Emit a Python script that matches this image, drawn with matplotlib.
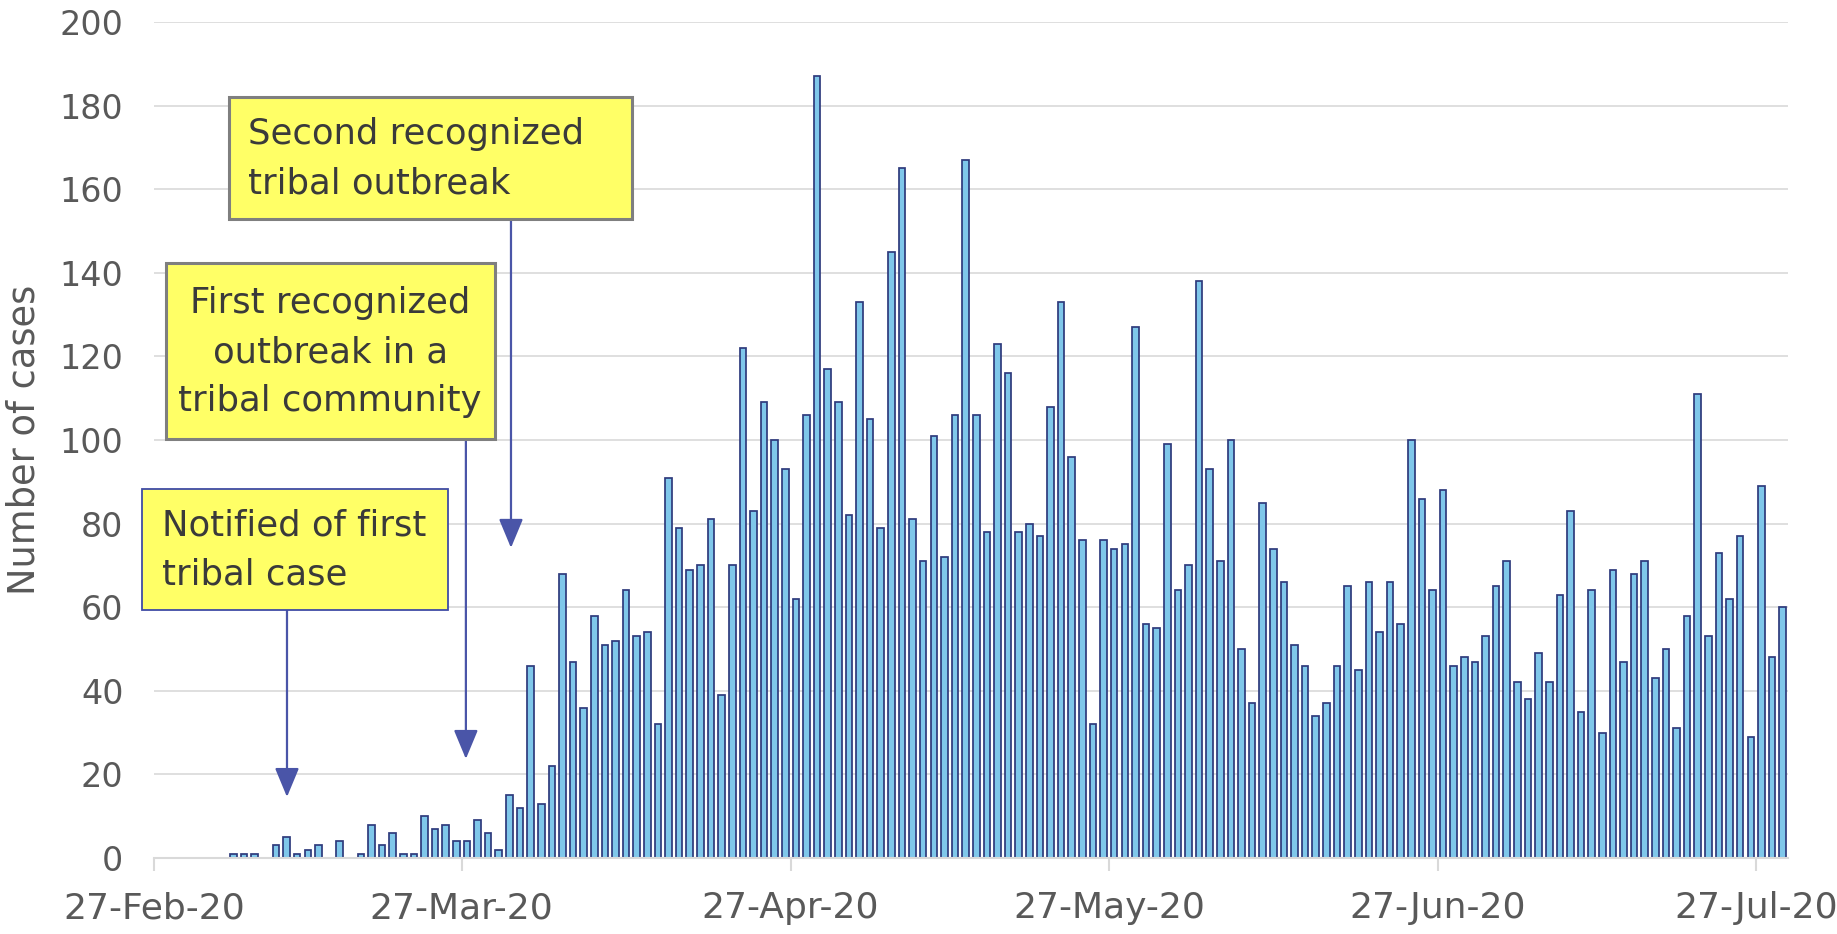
import matplotlib
matplotlib.use('Agg')
import matplotlib.pyplot as plt
import matplotlib.dates as mdates
from matplotlib.patches import Rectangle
import pandas as pd
import numpy as np

# daily tribal cases, first entry is 5-Mar-2020
first_day = '2020-03-05'
cases = [1, 1, 1, 0, 3, 5, 1, 2, 3, 0, 4, 0, 1, 8, 3, 6, 1, 1, 10, 7,
         8, 4, 4, 9, 6, 2, 15, 12, 46, 13, 22, 68, 47, 36, 58, 51, 52, 64, 53, 54,
         32, 91, 79, 69, 70, 81, 39, 70, 122, 83, 109, 100, 93, 62, 106, 187, 117, 109, 82, 133,
         105, 79, 145, 165, 81, 71, 101, 72, 106, 167, 106, 78, 123, 116, 78, 80, 77, 108, 133, 96,
         76, 32, 76, 74, 75, 127, 56, 55, 99, 64, 70, 138, 93, 71, 100, 50, 37, 85, 74, 66,
         51, 46, 34, 37, 46, 65, 45, 66, 54, 66, 56, 100, 86, 64, 88, 46, 48, 47, 53, 65,
         71, 42, 38, 49, 42, 63, 83, 35, 64, 30, 69, 47, 68, 71, 43, 50, 31, 58, 111, 53,
         73, 62, 77, 29, 89, 48, 60]

tick_dates = ['2020-02-27', '2020-03-27', '2020-04-27', '2020-05-27', '2020-06-27', '2020-07-27']
y_ticks = [0, 20, 40, 60, 80, 100, 120, 140, 160, 180, 200]

notes = ['Notified of first\ntribal case',
         'First recognized\noutbreak in a\ntribal community',
         'Second recognized\ntribal outbreak']

dates = pd.date_range(first_day, periods=len(cases), freq='D')
x = mdates.date2num(dates) + 0.5
y = np.array(cases)
keep = y > 0

grid_col = '#D9D9D9'
label_col = '#595959'

fig = plt.figure(figsize=(18.37, 9.34), dpi=100)
ax = fig.add_axes([0.0838, 0.0814, 0.9733 - 0.0838, 0.9764 - 0.0814])

ax.bar(x[keep], y[keep], width=0.62, color='#7FC7EA', edgecolor='#2E3A7C',
       linewidth=1.25, zorder=3)

x0 = mdates.datestr2num('2020-02-27')
ax.set_xlim(x0, x0 + 154)
ax.set_ylim(0, 200)
ax.set_yticks(y_ticks)
ax.set_xticks([mdates.datestr2num(d) for d in tick_dates])
ax.xaxis.set_major_formatter(mdates.DateFormatter('%d-%b-%y'))

ax.grid(axis='y', color=grid_col, linewidth=1.2, zorder=0)
for s in ['top', 'right', 'left']:
    ax.spines[s].set_visible(False)
ax.spines['bottom'].set_color(grid_col)
ax.spines['bottom'].set_linewidth(1.5)
ax.spines['bottom'].set_zorder(4)

ax.tick_params(axis='x', direction='out', length=9, width=1.5, color=grid_col,
               labelsize=26, labelcolor=label_col, pad=15)
ax.tick_params(axis='y', length=0, labelsize=24, labelcolor=label_col, pad=22)
ax.set_ylabel('Number of cases', fontsize=26.5, color=label_col, labelpad=12)

# annotation boxes (data coords: day offset from 27-Feb, cases)
box_fill = '#FFFF66'
txt_col = '#3A3A3A'
arrow_col = '#4A55A8'
arrow_style = '-|>,head_length=0.6,head_width=0.25'

def add_box(x_left, x_right, y_bot, y_top, edge, lw):
    r = Rectangle((x0 + x_left, y_bot), x_right - x_left, y_top - y_bot,
                  facecolor=box_fill, edgecolor=edge, linewidth=lw,
                  zorder=6, clip_on=False)
    ax.add_patch(r)

def add_arrow(xd, y_from, y_to):
    ax.annotate('', xy=(x0 + xd, y_to), xytext=(x0 + xd, y_from),
                arrowprops=dict(arrowstyle=arrow_style, color=arrow_col,
                                lw=1.6, mutation_scale=30, shrinkA=0, shrinkB=0),
                zorder=5)

# first tribal case
add_arrow(12.54, 59.3, 14.6)
add_box(-1.13, 27.7, 59.3, 88.3, '#3F4BA5', 1.3)
ax.text(x0 + 0.75, 73.6, notes[0], fontsize=25.5, color=txt_col, ha='left',
        va='center', linespacing=1.55, zorder=7)

# first outbreak
add_arrow(29.4, 100.2, 23.7)
add_box(1.13, 32.1, 100.2, 142.3, '#7F7F7F', 2.2)
ax.text(x0 + 16.6, 121.0, notes[1], fontsize=25.5, color=txt_col, ha='center',
        va='center', linespacing=1.55, zorder=7, multialignment='center')

# second outbreak
add_arrow(33.65, 152.9, 74.2)
add_box(7.07, 45.05, 152.9, 182.1, '#7F7F7F', 2.2)
ax.text(x0 + 8.86, 167.3, notes[2], fontsize=25.5, color=txt_col, ha='left',
        va='center', linespacing=1.55, zorder=7)

fig.savefig('out.png', dpi=100)
